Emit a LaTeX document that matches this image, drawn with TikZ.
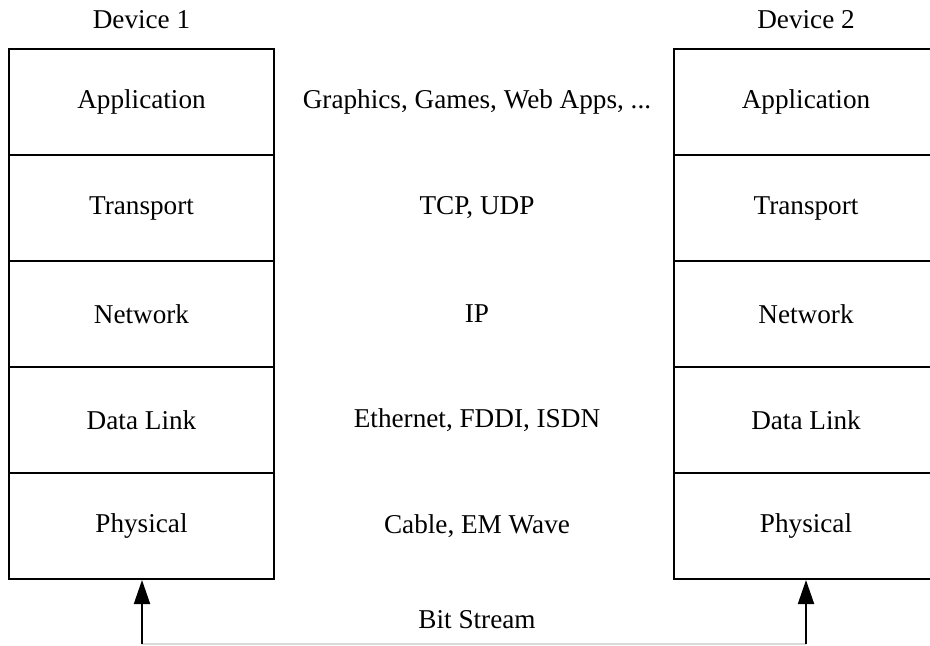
\documentclass[tikz,border=0pt]{standalone}
\usepackage{fontspec}
\setmainfont{Liberation Serif}
\usetikzlibrary{arrows.meta}

\begin{document}
\begin{tikzpicture}[
    x=0.5pt, y=-0.5pt,
    font=\fontsize{13.6}{16}\selectfont,
    % One protocol layer: all boxes share the same size
    layer/.style={draw=black, line width=1pt, minimum width=132.5pt,
                  minimum height=53pt, inner sep=0pt, align=center},
    % Plain text labels
    lbl/.style={inner sep=1pt, align=center},
    % Arrows
    arr/.style={-{Triangle[length=12pt, width=8pt]}, line width=1pt, draw=black},
    link/.style={draw=black!15, line width=0.6pt},
]

% px grid: width 930, height 645; rows 106 high starting at y = 49
% stack centres x = 141.5 (left), 806 (right); labels centred at x = 477
\clip (0,0) rectangle (930,645);

%% ── Left stack: Device 1 ──
\node[lbl]            (dev1) at (141.5, 20) {Device 1};
\node[layer]          (app1) at (141.5, 102) {Application};
\node[layer]          (tra1) at (141.5, 208) {Transport};
\node[layer]          (net1) at (141.5, 314) {Network};
\node[layer]          (dl1)  at (141.5, 420) {Data Link};
\node[layer]          (phy1) at (141.5, 526) {Physical};

%% ── Right stack: Device 2 ──
\node[lbl]            (dev2) at (806, 20) {Device 2};
\node[layer]          (app2) at (806, 102) {Application};
\node[layer]          (tra2) at (806, 208) {Transport};
\node[layer]          (net2) at (806, 314) {Network};
\node[layer]          (dl2)  at (806, 420) {Data Link};
\node[layer]          (phy2) at (806, 526) {Physical};

%% ── Protocols between the stacks ──
\node[lbl] (papp) at (477, 102) {Graphics, Games, Web Apps, ...};
\node[lbl] (ptra) at (477, 208) {TCP, UDP};
\node[lbl] (pnet) at (477, 314) {IP};
\node[lbl] (pdl)  at (477, 420) {Ethernet, FDDI, ISDN};
\node[lbl] (pphy) at (477, 526) {Cable, EM Wave};

%% ── Bit stream along the bottom ──
\coordinate (bs1) at (142, 644);
\coordinate (bs2) at (806, 644);
\node[lbl] (bits) at (477, 620) {Bit Stream};

\draw[link] (bs1) -- (bs2);
\draw[arr] (bs1) -- (bs1 |- phy1.south);
\draw[arr] (bs2) -- (phy2.south);

\end{tikzpicture}
\end{document}
